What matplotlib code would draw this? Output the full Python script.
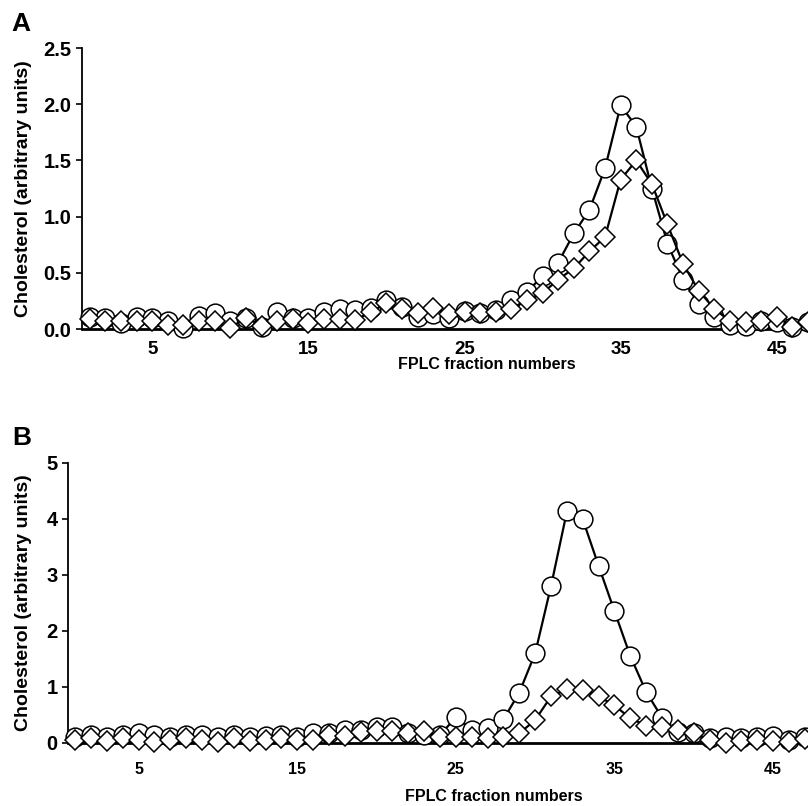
import matplotlib
matplotlib.use("Agg")
import matplotlib.pyplot as plt

plt.rcParams['font.family'] = ['Liberation Sans', 'DejaVu Sans']
plt.rcParams['font.weight'] = 'bold'

fractions = list(range(1, 48))

# panel A
a_circles = [0.11, 0.10, 0.05, 0.11, 0.10, 0.07, 0.01, 0.12, 0.14, 0.07,
             0.10, 0.02, 0.15, 0.10, 0.10, 0.15, 0.18, 0.17, 0.19, 0.26,
             0.20, 0.11, 0.13, 0.10, 0.16, 0.14, 0.17, 0.26, 0.33, 0.47,
             0.59, 0.85, 1.06, 1.43, 1.99, 1.80, 1.25, 0.76, 0.44, 0.22,
             0.11, 0.04, 0.03, 0.07, 0.06, 0.02, 0.06]
a_diamonds = [0.09, 0.07, 0.07, 0.07, 0.07, 0.04, 0.04, 0.07, 0.07, 0.01,
              0.10, 0.03, 0.07, 0.09, 0.05, 0.09, 0.09, 0.08, 0.15, 0.23,
              0.18, 0.14, 0.19, 0.13, 0.15, 0.14, 0.15, 0.18, 0.26, 0.32,
              0.44, 0.54, 0.69, 0.82, 1.33, 1.50, 1.29, 0.93, 0.58, 0.34,
              0.18, 0.07, 0.06, 0.07, 0.11, 0.02, 0.06]

# panel B
b_circles = [0.10, 0.14, 0.10, 0.14, 0.17, 0.14, 0.10, 0.14, 0.14, 0.10,
             0.14, 0.10, 0.12, 0.14, 0.10, 0.17, 0.18, 0.23, 0.24, 0.29,
             0.29, 0.18, 0.14, 0.14, 0.46, 0.24, 0.26, 0.42, 0.90, 1.60,
             2.80, 4.13, 3.99, 3.16, 2.35, 1.55, 0.91, 0.45, 0.20, 0.18,
             0.08, 0.10, 0.08, 0.10, 0.13, 0.05, 0.11]
b_diamonds = [0.05, 0.08, 0.04, 0.08, 0.06, 0.02, 0.05, 0.08, 0.06, 0.01,
              0.08, 0.04, 0.06, 0.08, 0.05, 0.06, 0.14, 0.12, 0.19, 0.22,
              0.21, 0.17, 0.22, 0.11, 0.11, 0.10, 0.08, 0.11, 0.17, 0.41,
              0.83, 0.96, 0.95, 0.83, 0.67, 0.44, 0.31, 0.28, 0.24, 0.17,
              0.05, 0.00, 0.04, 0.05, 0.04, 0.01, 0.07]

x_ticks = [5, 15, 25, 35, 45]

fig = plt.figure(figsize=(8.08, 8.06), dpi=100)
ax_a = fig.add_axes([0.1015, 0.5918, 0.8985, 0.3486])
ax_b = fig.add_axes([0.0842, 0.0782, 0.9158, 0.3477])


def draw_panel(ax, circles, diamonds, ylim, yticks, ylabels, xtick_size, xtick_pad, xlim):
    ax.plot(fractions, circles, color='black', lw=1.6, marker='o', ms=13.5,
            mfc='white', mec='black', mew=1.1, clip_on=False, zorder=3)
    ax.plot(fractions, diamonds, color='black', lw=1.6, marker='D', ms=10,
            mfc='white', mec='black', mew=1.1, clip_on=False, zorder=4)
    ax.set_xlim(*xlim)
    ax.set_ylim(*ylim)
    ax.set_yticks(yticks)
    ax.set_yticklabels(ylabels, fontsize=14.5, fontweight='bold')
    ax.set_xticks(x_ticks)
    ax.set_xticklabels([str(t) for t in x_ticks], fontsize=xtick_size, fontweight='bold')
    ax.tick_params(axis='x', length=0, pad=xtick_pad)
    ax.tick_params(axis='y', length=4.5, width=1.2, pad=3)
    ax.spines['top'].set_visible(False)
    ax.spines['right'].set_visible(False)
    ax.spines['left'].set_linewidth(1.3)
    ax.spines['bottom'].set_linewidth(2)
    ax.set_ylabel('Cholesterol (arbitrary units)', fontsize=14, fontweight='bold')
    ax.set_xlabel('FPLC fraction numbers', fontsize=11.5, fontweight='bold')


draw_panel(ax_a, a_circles, a_diamonds, (0, 2.5), [0, 0.5, 1.0, 1.5, 2.0, 2.5],
           ['0.0', '0.5', '1.0', '1.5', '2.0', '2.5'], 13.5, 8.5, (0.5, 47.0))
draw_panel(ax_b, b_circles, b_diamonds, (0, 5), [0, 1, 2, 3, 4, 5],
           ['0', '1', '2', '3', '4', '5'], 11.5, 13.5, (0.55, 47.2))

ax_a.yaxis.set_label_coords(-0.069, 0.5)
ax_b.yaxis.set_label_coords(-0.049, 0.5)
ax_a.xaxis.set_label_coords(0.557, -0.1)
ax_b.xaxis.set_label_coords(0.575, -0.163)

fig.text(0.014, 0.970, 'A', fontsize=19, fontweight='bold', va='center')
fig.text(0.015, 0.457, 'B', fontsize=19, fontweight='bold', va='center')

fig.savefig('out.png', dpi=100)
